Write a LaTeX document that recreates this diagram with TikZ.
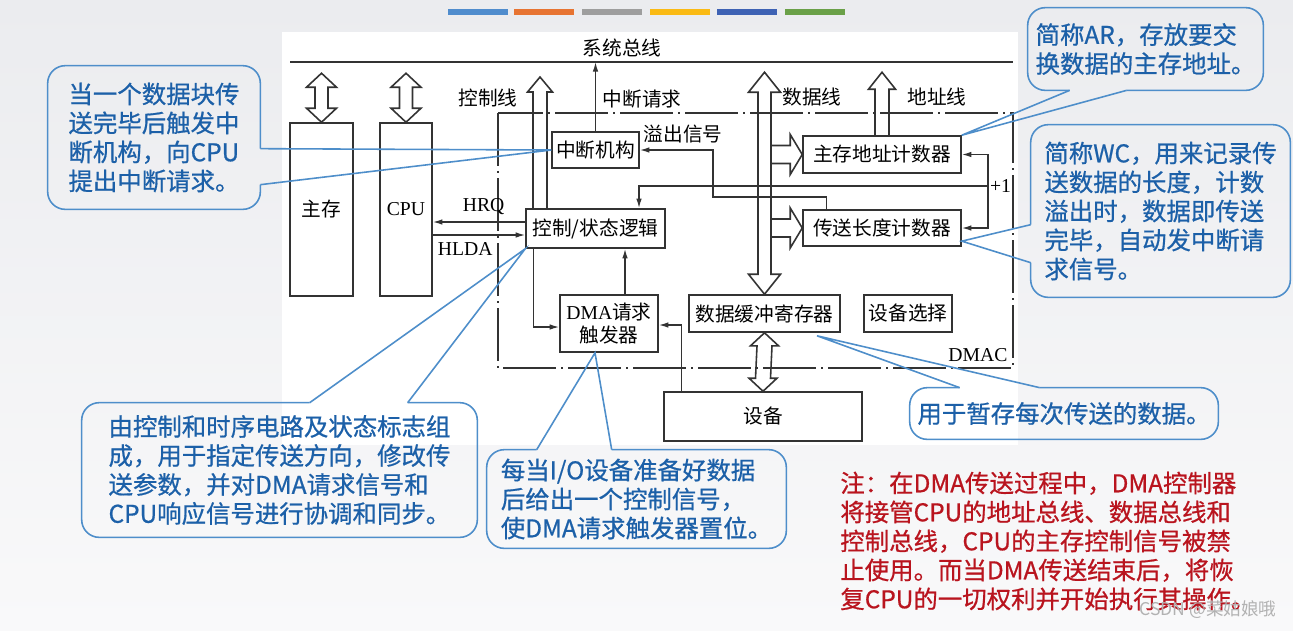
\documentclass[tikz,border=0pt]{standalone}
\usepackage{fontspec}
\setmainfont{Liberation Serif}
\newfontfamily\cjk{Noto Sans CJK SC}
\newfontfamily\notecjk{Noto Sans CJK SC}[FakeBold=0.7]
\usepackage{tikz}
\usetikzlibrary{arrows.meta}
\usetikzlibrary{calc}
\definecolor{bgtop}{RGB}{235,236,239}
\definecolor{bgbot}{RGB}{249,249,250}
\definecolor{notebl}{RGB}{28,96,168}
\definecolor{notebd}{RGB}{78,142,202}
\definecolor{notered}{RGB}{185,20,30}
\definecolor{barA}{RGB}{79,140,205}
\definecolor{barB}{RGB}{231,116,50}
\definecolor{barC}{RGB}{158,158,158}
\definecolor{barD}{RGB}{250,186,20}
\definecolor{barE}{RGB}{62,98,180}
\definecolor{barF}{RGB}{106,160,72}
\tikzset{blk/.style={draw=black!80,line width=0.9pt,inner sep=0pt,align=center,
                     font=\cjk\fontsize{11.2}{13.5}\selectfont}}
\tikzset{lbl/.style={inner sep=0pt,font=\cjk\fontsize{11.2}{13.5}\selectfont}}
\tikzset{latin/.style={inner sep=1pt,font=\rmfamily\fontsize{11.2}{13.5}\selectfont}}
\tikzset{bus/.style={draw=black!80,line width=0.9pt,line join=miter}}
\tikzset{wire/.style={draw=black!80,line width=0.8pt}}
\tikzset{dmac/.style={draw=black!80,line width=0.9pt,dash pattern=on 30pt off 3pt on 1pt off 3pt}}
\tikzset{callout/.style={draw=notebd,line width=0.9pt}}
\tikzset{notetext/.style={inner sep=0pt,text=notebl,align=left,
                          font=\notecjk\fontsize{13.9}{16.5}\selectfont}}
% double headed bus arrow: #1 top, #2 bottom, #3 half shaft, #4 half head, #5 head length
\newcommand{\dbus}[5]{%
  \draw[bus] (#1) -- ($(#1)+(#4,#5)$) -- ($(#1)+(#3,#5)$) -- ($(#2)+(#3,-#5)$)
    -- ($(#2)+(#4,-#5)$) -- (#2) -- ($(#2)+(-#4,-#5)$) -- ($(#2)+(-#3,-#5)$)
    -- ($(#1)+(-#3,#5)$) -- ($(#1)+(-#4,#5)$) -- cycle;}
% single headed bus arrow going up from #2 to #1
\newcommand{\ubus}[5]{%
  \draw[bus] ($(#2)+(-#3,0)$) -- ($(#1)+(-#3,#5)$) -- ($(#1)+(-#4,#5)$) -- (#1)
    -- ($(#1)+(#4,#5)$) -- ($(#1)+(#3,#5)$) -- ($(#2)+(#3,0)$);}

\begin{document}
\begin{tikzpicture}[x=0.02cm,y=-0.02cm,>={Latex[length=5.5pt,width=3.2pt]}]
  \useasboundingbox (0,0) rectangle (1293,630);
  % slide background and the white figure
  \shade[top color=bgtop,bottom color=bgbot] (0,0) rectangle (1293,630);
  \fill[white] (282,32) rectangle (1018,445);

  % colour bars of the slide
  \fill[barA] (448,9) rectangle (508,15);
  \fill[barB] (514,9) rectangle (574,15);
  \fill[barC] (582,9) rectangle (642,15);
  \fill[barD] (650,9) rectangle (710,15);
  \fill[barE] (717,9) rectangle (777,15);
  \fill[barF] (785,9) rectangle (845,15);

  % system bus
  \coordinate (sysL) at (290,62);
  \coordinate (sysR) at (1013,62);
  \draw[wire,line width=1pt] (sysL) -- (sysR);
  \node[lbl] (sysbus) at (622,48) {系统总线};

  % DMAC frame
  \draw[dmac] (498,113) rectangle (1013,368);
  \node[latin] (dmaclbl) at (978,355) {DMAC};

  % the blocks
  \node[blk,minimum width=1.26cm,minimum height=3.46cm] (mem) at (321.5,209.5) {主存};
  \node[blk,font=\rmfamily\fontsize{11.2}{13.5}\selectfont,
        minimum width=1.04cm,minimum height=3.46cm] (cpu) at (406,209.5) {CPU};
  \node[blk,minimum width=1.74cm,minimum height=0.72cm] (intr) at (595.5,150) {中断机构};
  \node[blk,minimum width=2.78cm,minimum height=0.78cm] (ctrl) at (595.5,228.5) {控制/状态逻辑};
  \node[blk,minimum width=1.96cm,minimum height=1.14cm] (dreq) at (609,323.5) {{\rmfamily DMA}请求\\触发器};
  \node[blk,minimum width=3.02cm,minimum height=0.74cm] (buf) at (764.5,313.5) {数据缓冲寄存器};
  \node[blk,minimum width=1.76cm,minimum height=0.74cm] (sel) at (908,313.5) {设备选择};
  \node[blk,minimum width=3.16cm,minimum height=0.74cm] (ar) at (882,154.5) {主存地址计数器};
  \node[blk,minimum width=3.16cm,minimum height=0.72cm] (wc) at (882,228) {传送长度计数器};
  \node[blk,minimum width=3.96cm,minimum height=0.98cm] (dev) at (763,416.5) {设备};

  % bus arrows
  \coordinate (memtop) at ($(mem.north)+(0,-49)$);
  \coordinate (cputop) at ($(cpu.north)+(0,-49)$);
  \dbus{memtop}{mem.north}{6.5}{15}{14}
  \dbus{cputop}{cpu.north}{6.5}{15}{14}
  \coordinate (datatop) at ($(buf.north)+(0,-222)$);
  \dbus{datatop}{buf.north}{6.5}{16}{20}
  \dbus{buf.south}{dev.north}{7.5}{14}{13}
  \coordinate (ctltop) at (540,77);
  \coordinate (ctlbot) at (ctltop |- ctrl.north);
  \ubus{ctltop}{ctlbot}{7}{12.5}{15}
  \coordinate (adrtop) at ($(ar.north)+(0,-63)$);
  \ubus{adrtop}{ar.north}{7}{13.5}{17}
  \draw[bus] ($(ar.west)+(-32,-9)$) -- ++(20,0) -- ++(0,-11) -- (ar.west)
    -- ++(-12,20) -- ++(0,-11) -- ++(-20,0);
  \draw[bus] ($(wc.west)+(-32,-9)$) -- ++(20,0) -- ++(0,-11) -- (wc.west)
    -- ++(-12,20) -- ++(0,-11) -- ++(-20,0);
  \node[lbl] (ctlline) at (488,98) {控制线};
  \node[lbl] (irq) at (642,99) {中断请求};
  \node[lbl] (dataline) at (812,97) {数据线};
  \node[lbl] (adrline) at (937,97) {地址线};

  % control signals
  \draw[wire,->] (intr.north) -- (intr.north |- sysL);
  \coordinate (ovf) at ($(wc.north west)+(24,0)$);
  \draw[wire,->] (ovf) |- (713,197) |- (intr.east);
  \node[lbl] (ovflbl) at (683,134) {溢出信号};
  \coordinate (inc) at (988,186);
  \draw[wire,->] (inc) -| ($(ctrl.north)+(43.5,0)$);
  \draw[wire,->] (inc) |- (ar.east);
  \draw[wire,->] (inc) |- (wc.east);
  \node[latin,right] (inclbl) at (inc) {+1};
  \coordinate (hrq) at ($(ctrl.west)+(0,-6.5)$);
  \draw[wire,->] (hrq) -- (hrq -| cpu.east) node[latin,pos=0.45,above=3pt] (hrqlbl) {HRQ};
  \coordinate (hlda) at ($(ctrl.west)+(0,6.5)$);
  \draw[wire,->] (hlda -| cpu.east) -- (hlda) node[latin,pos=0.35,below=3pt] (hldalbl) {HLDA};
  \coordinate (req) at ($(dreq.north)+(16,0)$);
  \draw[wire,->] (req) -- (req |- ctrl.south);
  \draw[wire,->] ($(ctrl.south west)+(8,0)$) |- ($(dreq.west)+(0,3.5)$);
  \draw[wire,->] ($(dev.north west)+(18,0)$) |- ($(dreq.east)+(0,1.5)$);

  % callouts
  \node[notetext,minimum width=4.24cm,minimum height=2.86cm] (nintr) at (154,137.5)
    {当一个数据块传\\送完毕后触发中\\断机构，向CPU\\提出中断请求。};
  \draw[callout,rounded corners=10pt] ($(nintr.north east)+(0,83)$) -- (nintr.north east)
    -- (nintr.north west) -- (nintr.south west) -- (nintr.south east) -- ($(nintr.north east)+(0,119)$);
  \draw[callout] ($(nintr.north east)+(0,83)$) -- (intr.west) -- ($(nintr.north east)+(0,119)$);

  \node[notetext,minimum width=4.7cm,minimum height=1.64cm] (nar) at (1145.5,49)
    {简称AR，存放要交\\换数据的主存地址。};
  \draw[callout,rounded corners=10pt] ($(nar.south west)+(99,0)$) -- (nar.south east)
    -- (nar.north east) -- (nar.north west) -- (nar.south west) -- ($(nar.south west)+(42,0)$);
  \draw[callout] ($(nar.south west)+(42,0)$) -- (ar.north east) -- ($(nar.south west)+(99,0)$);

  \node[notetext,minimum width=5.18cm,minimum height=3.44cm] (nwc) at (1160.5,211)
    {简称WC，用来记录传\\送数据的长度，计数\\溢出时，数据即传送\\完毕，自动发中断请\\求信号。};
  \coordinate (wctip) at ($(wc.east)!0.7!(wc.south east)$);
  \draw[callout,rounded corners=10pt] ($(nwc.north west)+(0,100)$) -- (nwc.north west)
    -- (nwc.north east) -- (nwc.south east) -- (nwc.south west) -- ($(nwc.north west)+(0,138)$);
  \draw[callout] ($(nwc.north west)+(0,100)$) -- (wctip) -- ($(nwc.north west)+(0,138)$);

  \node[notetext,minimum width=7.9cm,minimum height=2.68cm] (nctrl) at (279.5,470)
    {由控制和时序电路及状态标志组\\成，用于指定传送方向，修改传\\送参数，并对DMA请求信号和\\CPU响应信号进行协调和同步。};
  \draw[callout,rounded corners=10pt] ($(nctrl.north west)+(326,0)$) -- (nctrl.north east)
    -- (nctrl.south east) -- (nctrl.south west) -- (nctrl.north west) -- ($(nctrl.north west)+(228,0)$);
  \draw[callout] ($(nctrl.north west)+(228,0)$) -- (ctrl.south west) -- ($(nctrl.north west)+(326,0)$);

  \node[notetext,minimum width=5.98cm,minimum height=1.96cm] (ndreq) at (636.5,499)
    {每当I/O设备准备好数据\\后给出一个控制信号，\\使DMA请求触发器置位。};
  \draw[callout,rounded corners=10pt] ($(ndreq.north west)+(125,0)$) -- (ndreq.north east)
    -- (ndreq.south east) -- (ndreq.south west) -- (ndreq.north west) -- ($(ndreq.north west)+(50,0)$);
  \draw[callout] ($(ndreq.north west)+(50,0)$) -- ($(dreq.south)+(-14,0)$) -- ($(ndreq.north west)+(125,0)$);

  \node[notetext,minimum width=6.16cm,minimum height=1.02cm] (nbuf) at (1064,413.5)
    {用于暂存每次传送的数据。};
  \draw[callout,rounded corners=10pt] ($(nbuf.north west)+(130,0)$) -- (nbuf.north east)
    -- (nbuf.south east) -- (nbuf.south west) -- (nbuf.north west) -- ($(nbuf.north west)+(50,0)$);
  \draw[callout] ($(nbuf.north west)+(50,0)$) -- ($(buf.south)+(52.5,3)$) -- ($(nbuf.north west)+(130,0)$);

  % remark in red
  \node[notetext,text=notered,anchor=west] (remark) at (840,541)
    {注：在DMA传送过程中，DMA控制器\\将接管CPU的地址总线、数据总线和\\控制总线，CPU的主存控制信号被禁\\止使用。而当DMA传送结束后，将恢\\复CPU的一切权利并开始执行其操作。};
  \node[inner sep=0pt,text=gray!60,font=\cjk\fontsize{10}{12}\selectfont] (wmark) at (1208,610)
    {CSDN @菜姑娘哦};
\end{tikzpicture}
\end{document}
